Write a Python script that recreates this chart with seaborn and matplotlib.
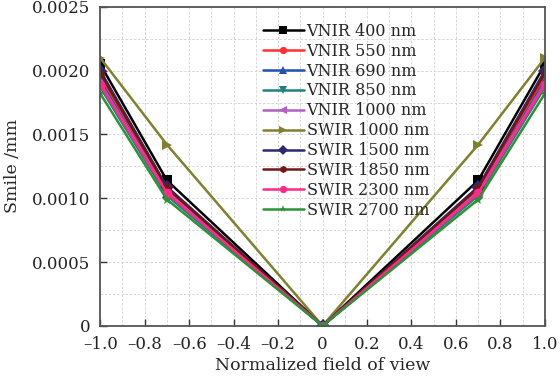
import matplotlib
matplotlib.use("Agg")
import matplotlib.pyplot as plt
import matplotlib.ticker as mticker
import seaborn as sns
import pandas as pd
import numpy as np

# field positions (normalized)
fov = [-1.0, -0.7, 0.0, 0.7, 1.0]

series = ['VNIR 400 nm', 'VNIR 550 nm', 'VNIR 690 nm', 'VNIR 850 nm', 'VNIR 1000 nm',
          'SWIR 1000 nm', 'SWIR 1500 nm', 'SWIR 1850 nm', 'SWIR 2300 nm', 'SWIR 2700 nm']

# smile at edge (|x|=1) and at |x|=0.7, mm
smile_edge = [0.00205, 0.00195, 0.00192, 0.00187, 0.00190,
              0.00210, 0.00200, 0.00198, 0.00189, 0.00182]
smile_mid = [0.00114, 0.00106, 0.00104, 0.00102, 0.00105,
             0.00142, 0.00109, 0.00108, 0.00104, 0.00099]

colors = ['#000000', '#ff3030', '#2050b0', '#208080', '#b060c0',
          '#808030', '#2a2a70', '#701818', '#ff2a8a', '#30903a']
markers = ['s', 'o', '^', 'v', '<', '>', 'D', 'h', 'o', '*']

rows = []
for name, e, m in zip(series, smile_edge, smile_mid):
    vals = [e, m, 0.0, m, e]
    for x, v in zip(fov, vals):
        rows.append({'fov': x, 'smile': v, 'band': name})
df = pd.DataFrame(rows)

sns.set_style('ticks')
plt.rcParams['font.family'] = ['DejaVu Serif']

fig = plt.figure(figsize=(5.6, 3.82), dpi=100)
ax = fig.add_axes([0.179, 0.147, 0.794, 0.835])

sns.lineplot(data=df, x='fov', y='smile', hue='band', style='band',
             palette=dict(zip(series, colors)), markers=dict(zip(series, markers)),
             dashes=False, linewidth=1.8, markersize=7, markeredgewidth=0,
             ax=ax, hue_order=series, style_order=series)

ax.set_xlim(-1, 1)
ax.set_ylim(0, 0.0025)
ax.xaxis.set_major_locator(mticker.MultipleLocator(0.2))
ax.xaxis.set_minor_locator(mticker.MultipleLocator(0.1))
ax.yaxis.set_major_locator(mticker.MultipleLocator(0.0005))
ax.yaxis.set_minor_locator(mticker.MultipleLocator(0.00025))

def xfmt(v, p):
    if abs(v) < 1e-9:
        return '0'
    return ('%.1f' % v).replace('-', '\u2013')

def yfmt(v, p):
    if abs(v) < 1e-12:
        return '0'
    return '%.4f' % v

ax.xaxis.set_major_formatter(mticker.FuncFormatter(xfmt))
ax.yaxis.set_major_formatter(mticker.FuncFormatter(yfmt))

ax.grid(which='both', color='#d0d0d0', linestyle=(0, (3, 2)), linewidth=0.6)
ax.tick_params(which='major', direction='in', length=5, width=1, labelsize=12,
               colors='#333333', labelcolor='#222222')
ax.tick_params(axis='y', pad=7)
ax.tick_params(axis='x', pad=7)
ax.tick_params(which='minor', length=0)
for s in ax.spines.values():
    s.set_color('#555555')
    s.set_linewidth(1.3)

ax.set_xlabel('Normalized field of view', fontsize=12.5, labelpad=3)
ax.set_ylabel('Smile /mm', fontsize=12.5, labelpad=8)

ax.legend(loc='upper left', bbox_to_anchor=(0.34, 0.985), frameon=False,
          fontsize=11.5, handlelength=2.6, handletextpad=0.15, labelspacing=0.18,
          borderaxespad=0.3, markerscale=0.75)

fig.savefig('out.png', dpi=100)
